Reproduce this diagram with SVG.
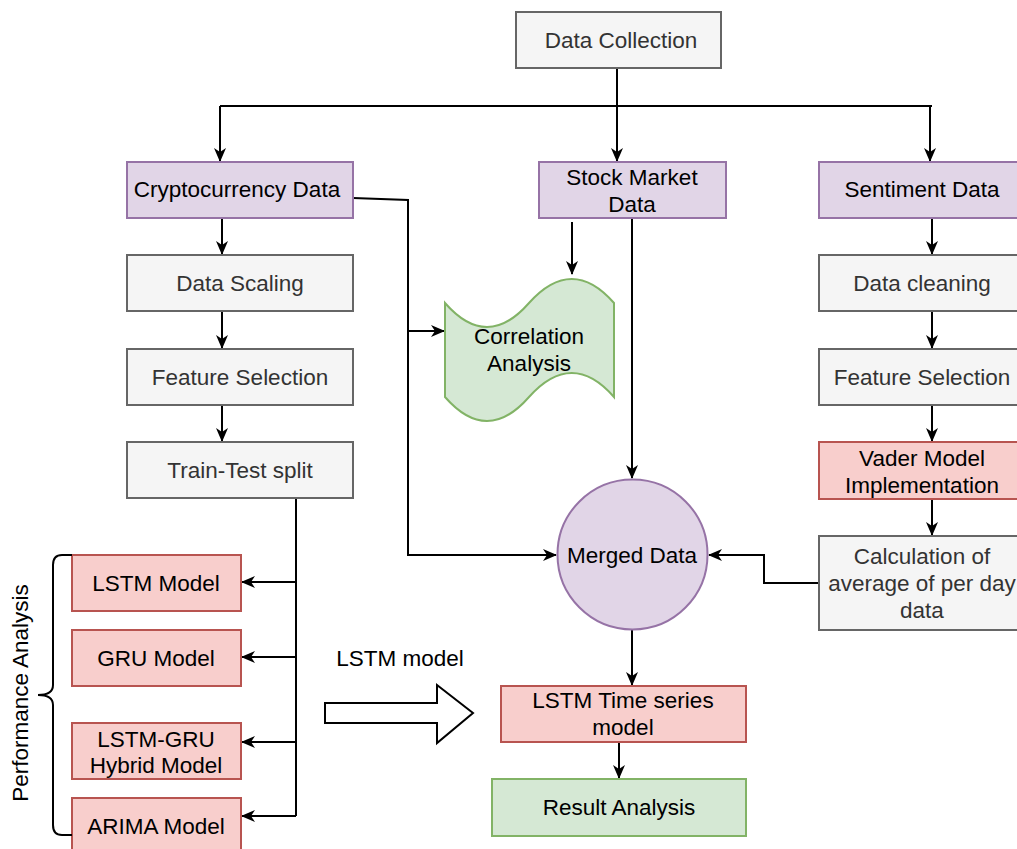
<svg xmlns="http://www.w3.org/2000/svg" width="1017" height="849" viewBox="0 0 1017 849">
<defs>
<marker id="arr" markerUnits="userSpaceOnUse" markerWidth="14" markerHeight="12" viewBox="0 0 14 12" refX="13" refY="6" orient="auto">
<path d="M0,0 L14,6 L0,12 L4,6 Z" fill="#000"/>
</marker>
</defs>
<style>
text{font-family:"Liberation Sans",Arial,sans-serif;font-size:22.5px;text-anchor:middle;dominant-baseline:central;fill:#000}
.gray rect,.gray path{fill:#f5f5f5;stroke:#666;stroke-width:2}
.gray text{fill:#333}
.purple rect,.purple circle{fill:#e1d5e7;stroke:#9673a6;stroke-width:2}
.red rect{fill:#f8cecc;stroke:#b85450;stroke-width:2}
.green rect,.green path{fill:#d5e8d4;stroke:#82b366;stroke-width:2}
.edge{fill:none;stroke:#000;stroke-width:2}
.edge.a{marker-end:url(#arr)}
</style>
<rect width="1017" height="849" fill="#fff"/>

<g id="connectors">
<path class="edge" d="M220,106 L932,106"/>
<path class="edge a" d="M617,68 L617,161"/>
<path class="edge a" d="M220,106 L220,161"/>
<path class="edge a" d="M930,106 L930,161"/>
<path class="edge a" d="M222,218 L222,254"/>
<path class="edge a" d="M222,311 L222,348"/>
<path class="edge a" d="M222,405 L222,441"/>
<path class="edge a" d="M932,218 L932,254"/>
<path class="edge a" d="M932,311 L932,348"/>
<path class="edge a" d="M932,405 L932,441"/>
<path class="edge a" d="M932,499 L932,535"/>
<path class="edge a" d="M572,222 L572,274"/>
<path class="edge a" d="M632,218 L632,478"/>
<path class="edge a" d="M353,198 L408,200 L408,555 L556,555"/>
<path class="edge a" d="M408,331 L444,331"/>
<path class="edge a" d="M819,583 L764,583 L764,555 L709,555"/>
<path class="edge" d="M296,498 L296,816"/>
<path class="edge a" d="M296,582 L242,582"/>
<path class="edge a" d="M296,657 L242,657"/>
<path class="edge a" d="M296,742 L242,742"/>
<path class="edge a" d="M296,816 L242,816"/>
<path class="edge a" d="M632,630 L632,685"/>
<path class="edge a" d="M619,742 L619,778"/>
</g>

<g id="data-collection" class="gray"><rect x="516" y="12" width="205" height="56"/><text x="621" y="40">Data Collection</text></g>
<g id="crypto-data" class="purple"><rect x="127" y="162" width="226" height="56"/><text x="237" y="189">Cryptocurrency Data</text></g>
<g id="stock-data" class="purple"><rect x="539" y="162" width="187" height="56"/><text x="632" y="177">Stock Market</text><text x="632" y="204">Data</text></g>
<g id="sentiment-data" class="purple"><rect x="819" y="162" width="210" height="56"/><text x="922" y="189">Sentiment Data</text></g>

<g id="data-scaling" class="gray"><rect x="127" y="255" width="226" height="56"/><text x="240" y="283">Data Scaling</text></g>
<g id="feature-selection-1" class="gray"><rect x="127" y="349" width="226" height="56"/><text x="240" y="377">Feature Selection</text></g>
<g id="train-test" class="gray"><rect x="127" y="442" width="226" height="56"/><text x="240" y="470">Train-Test split</text></g>

<g id="data-cleaning" class="gray"><rect x="819" y="255" width="210" height="56"/><text x="922" y="283">Data cleaning</text></g>
<g id="feature-selection-2" class="gray"><rect x="819" y="349" width="210" height="56"/><text x="922" y="377">Feature Selection</text></g>
<g id="vader" class="red"><rect x="819" y="442" width="210" height="57"/><text x="922" y="458">Vader Model</text><text x="922" y="485">Implementation</text></g>
<g id="calc-avg" class="gray"><rect x="819" y="536" width="210" height="94"/><text x="922" y="556">Calculation of</text><text x="922" y="583">average of per day</text><text x="922" y="610">data</text></g>

<g id="correlation" class="green"><path d="M445,303 Q487,351 529,303 Q572,255 614,303 L614,397 Q572,349 529,397 Q487,445 445,397 Z"/><text x="529" y="336">Correlation</text><text x="529" y="363">Analysis</text></g>

<g id="merged" class="purple"><circle cx="632.5" cy="554.5" r="75"/><text x="632" y="555">Merged Data</text></g>

<g id="lstm-model" class="red"><rect x="72" y="555" width="169" height="56"/><text x="156" y="583">LSTM Model</text></g>
<g id="gru-model" class="red"><rect x="72" y="630" width="169" height="56"/><text x="156" y="658">GRU Model</text></g>
<g id="hybrid-model" class="red"><rect x="72" y="723" width="169" height="56"/><text x="156" y="739">LSTM-GRU</text><text x="156" y="765">Hybrid Model</text></g>
<g id="arima-model" class="red"><rect x="72" y="798" width="169" height="60"/><text x="156" y="826">ARIMA Model</text></g>

<g id="perf-brace"><path d="M72,555 L62,555 Q53,555 53,565 L53,685 Q53,695 38,695 Q53,695 53,705 L53,825 Q53,835 62,835 L72,835" fill="none" stroke="#000" stroke-width="2"/><text x="20" y="693" transform="rotate(-90 20 693)">Performance Analysis</text></g>

<g id="block-arrow"><path d="M325,703 L437,703 L437,685 L473,713 L437,743 L437,723 L325,723 Z" fill="#fff" stroke="#000" stroke-width="2"/><text x="400" y="658">LSTM model</text></g>

<g id="lstm-ts" class="red"><rect x="501" y="686" width="245" height="56"/><text x="623" y="700">LSTM Time series</text><text x="623" y="727">model</text></g>
<g id="result" class="green"><rect x="492" y="779" width="254" height="57"/><text x="619" y="807">Result Analysis</text></g>
</svg>
